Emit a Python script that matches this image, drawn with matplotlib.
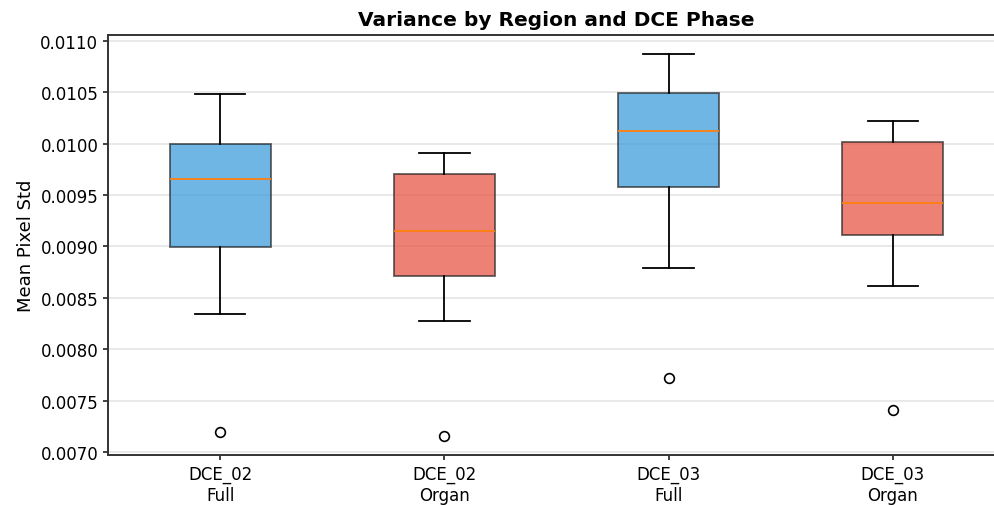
import matplotlib
matplotlib.use('Agg')
from matplotlib import pyplot as plt

labels = ['DCE_02\nFull', 'DCE_02\nOrgan', 'DCE_03\nFull', 'DCE_03\nOrgan']
whislo = [0.008343, 0.008275, 0.008791, 0.008616]
q1 = [0.008995, 0.008713, 0.009579, 0.009112]
med = [0.009657, 0.009151, 0.010124, 0.009423]
q3 = [0.010000, 0.009706, 0.010494, 0.010017]
whishi = [0.010484, 0.009910, 0.010873, 0.010221]
fliers = [[0.007195], [0.007156], [0.007720], [0.007409]]
colors = ['#3498db', '#e74c3c', '#3498db', '#e74c3c']

stats = []
for i in range(len(labels)):
    stats.append(dict(label=labels[i], whislo=whislo[i], q1=q1[i], med=med[i],
                      q3=q3[i], whishi=whishi[i], fliers=fliers[i]))

fig = plt.figure(figsize=(9.94, 5.06), dpi=100)
ax = fig.add_axes([108 / 994, 1 - 456 / 506, (1005 - 108) / 994, 420 / 506])

bp = ax.bxp(stats, widths=0.45, patch_artist=True,
            flierprops=dict(marker='o', markerfacecolor='none', markeredgecolor='black',
                            markersize=7, markeredgewidth=1.2),
            medianprops=dict(color='#ff7f0e', linewidth=1.3),
            whiskerprops=dict(color='black', linewidth=1.3),
            capprops=dict(color='black', linewidth=1.3),
            boxprops=dict(linewidth=1.3))
for patch, c in zip(bp['boxes'], colors):
    patch.set_facecolor(c)
    patch.set_alpha(0.7)
    patch.set_edgecolor('#222222')

ax.set_xlim(0.5, 4.5)
ax.set_ylim(0.006971, 0.011058)
ax.set_yticks([0.0070, 0.0075, 0.0080, 0.0085, 0.0090, 0.0095, 0.0100, 0.0105, 0.0110])
ax.set_yticklabels(['%.4f' % v for v in ax.get_yticks()])
ax.tick_params(labelsize=12, color='#333333', width=1.3)
ax.yaxis.grid(True, alpha=0.35, linewidth=1.1)
ax.set_axisbelow(True)
ax.spines['right'].set_visible(False)
for s in ['left', 'top', 'bottom']:
    ax.spines[s].set_color('#333333')
    ax.spines[s].set_linewidth(1.4)
ax.set_ylabel('Mean Pixel Std', fontsize=13)
ax.set_title('Variance by Region and DCE Phase', fontsize=14.5, fontweight='bold', pad=7)

fig.savefig('out.png', dpi=100)
